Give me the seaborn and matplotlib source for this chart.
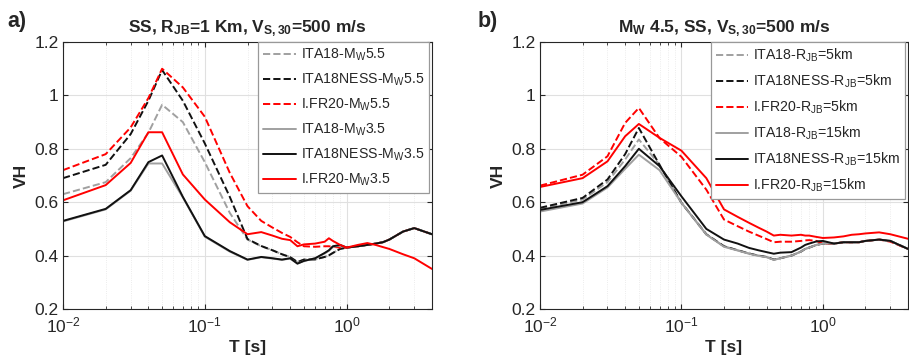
import numpy as np
import pandas as pd
import matplotlib
matplotlib.use("Agg")
import matplotlib.pyplot as plt
import seaborn as sns
from matplotlib.ticker import FixedLocator, FuncFormatter, LogLocator, NullFormatter

# ---------------- data ----------------
periods = [0.01, 0.02, 0.03, 0.04, 0.05, 0.07, 0.1, 0.15, 0.2, 0.25, 0.3, 0.35, 0.4, 0.45,
           0.5, 0.6, 0.7, 0.75, 0.8, 0.9, 1.0, 1.2, 1.4, 1.6, 1.8, 2.0, 2.5, 3.0, 4.0]

# panel a) SS, RJB = 1 km, Vs30 = 500 m/s
a_ita18_m55 = [0.630, 0.675, 0.765, 0.860, 0.965, 0.900, 0.750, 0.560, 0.460, 0.435, 0.420, 0.405, 0.395, 0.375,
               0.385, 0.385, 0.395, 0.400, 0.410, 0.425, 0.430, 0.435, 0.440, 0.445, 0.450, 0.460, 0.490, 0.503, 0.480]
a_ness_m55 = [0.690, 0.740, 0.855, 0.980, 1.095, 0.980, 0.820, 0.620, 0.462, 0.436, 0.420, 0.405, 0.394, 0.376,
              0.385, 0.386, 0.395, 0.401, 0.410, 0.425, 0.430, 0.435, 0.440, 0.445, 0.450, 0.460, 0.490, 0.503, 0.480]
a_ifr20_m55 = [0.720, 0.780, 0.880, 0.990, 1.100, 1.030, 0.920, 0.710, 0.585, 0.530, 0.505, 0.485, 0.470, 0.450,
               0.435, 0.433, 0.435, 0.435, 0.433, 0.430, 0.430, 0.435, 0.440, 0.445, 0.450, 0.460, 0.490, 0.503, 0.480]
a_ita18_m35 = [0.528, 0.573, 0.643, 0.745, 0.745, 0.618, 0.471, 0.415, 0.384, 0.394, 0.389, 0.384, 0.389, 0.370,
               0.380, 0.390, 0.408, 0.418, 0.432, 0.438, 0.430, 0.435, 0.440, 0.445, 0.450, 0.460, 0.490, 0.503, 0.480]
a_ness_m35 = [0.530, 0.575, 0.645, 0.750, 0.775, 0.620, 0.473, 0.417, 0.385, 0.395, 0.390, 0.385, 0.390, 0.370,
              0.380, 0.390, 0.410, 0.420, 0.435, 0.440, 0.430, 0.435, 0.440, 0.445, 0.450, 0.460, 0.490, 0.503, 0.480]
a_ifr20_m35 = [0.607, 0.664, 0.747, 0.862, 0.862, 0.704, 0.610, 0.525, 0.480, 0.488, 0.475, 0.463, 0.458, 0.435,
               0.442, 0.445, 0.452, 0.465, 0.455, 0.440, 0.430, 0.440, 0.447, 0.440, 0.432, 0.425, 0.405, 0.390, 0.350]

# panel b) Mw 4.5, SS, Vs30 = 500 m/s
b_ita18_r5 = [0.575, 0.610, 0.675, 0.760, 0.835, 0.740, 0.598, 0.479, 0.435, 0.420, 0.408, 0.400, 0.395, 0.385,
              0.390, 0.400, 0.415, 0.425, 0.430, 0.440, 0.445, 0.445, 0.450, 0.450, 0.450, 0.455, 0.460, 0.455, 0.425]
b_ness_r5 = [0.579, 0.616, 0.685, 0.780, 0.878, 0.740, 0.598, 0.480, 0.435, 0.420, 0.408, 0.400, 0.395, 0.385,
             0.390, 0.400, 0.415, 0.425, 0.430, 0.440, 0.445, 0.445, 0.450, 0.450, 0.450, 0.455, 0.460, 0.455, 0.425]
b_ifr20_r5 = [0.662, 0.703, 0.772, 0.897, 0.953, 0.840, 0.770, 0.647, 0.535, 0.510, 0.490, 0.475, 0.462, 0.450,
              0.452, 0.452, 0.455, 0.457, 0.458, 0.455, 0.445, 0.445, 0.450, 0.450, 0.450, 0.455, 0.460, 0.452, 0.425]
b_ita18_r15 = [0.565, 0.595, 0.655, 0.725, 0.778, 0.720, 0.598, 0.479, 0.433, 0.419, 0.407, 0.399, 0.394, 0.384,
               0.390, 0.400, 0.415, 0.425, 0.430, 0.440, 0.445, 0.445, 0.450, 0.450, 0.450, 0.455, 0.460, 0.455, 0.425]
b_ness_r15 = [0.571, 0.600, 0.660, 0.735, 0.800, 0.735, 0.622, 0.500, 0.460, 0.445, 0.429, 0.420, 0.413, 0.407,
              0.411, 0.413, 0.430, 0.440, 0.445, 0.453, 0.455, 0.445, 0.450, 0.450, 0.450, 0.455, 0.460, 0.455, 0.425]
b_ifr20_r15 = [0.657, 0.690, 0.753, 0.847, 0.893, 0.841, 0.793, 0.690, 0.573, 0.545, 0.523, 0.505, 0.490, 0.475,
               0.478, 0.475, 0.478, 0.475, 0.475, 0.470, 0.466, 0.468, 0.472, 0.478, 0.480, 0.483, 0.487, 0.480, 0.463]

a_labels = ["ITA18-M$_\\mathrm{W}$5.5", "ITA18NESS-M$_\\mathrm{W}$5.5", "I.FR20-M$_\\mathrm{W}$5.5",
            "ITA18-M$_\\mathrm{W}$3.5", "ITA18NESS-M$_\\mathrm{W}$3.5", "I.FR20-M$_\\mathrm{W}$3.5"]
b_labels = ["ITA18-R$_\\mathrm{JB}$=5km", "ITA18NESS-R$_\\mathrm{JB}$=5km", "I.FR20-R$_\\mathrm{JB}$=5km",
            "ITA18-R$_\\mathrm{JB}$=15km", "ITA18NESS-R$_\\mathrm{JB}$=15km", "I.FR20-R$_\\mathrm{JB}$=15km"]
a_title = "SS, $\\mathbf{R_{JB}}$=1 Km, $\\mathbf{V_{S,30}}$=500 m/s"
b_title = "$\\mathbf{M_{W}}$ 4.5, SS, $\\mathbf{V_{S,30}}$=500 m/s"

# ---------------- style ----------------
sns.set_theme(style="ticks")
plt.rcParams["font.family"] = ["Liberation Sans", "DejaVu Sans"]
plt.rcParams["mathtext.fontset"] = "custom"
plt.rcParams["mathtext.rm"] = "Liberation Sans"
plt.rcParams["mathtext.it"] = "Liberation Sans:italic"
plt.rcParams["mathtext.bf"] = "Liberation Sans:bold"
plt.rcParams["mathtext.default"] = "rm"

GRAY = "#a0a0a0"
BLACK = "#111111"
RED = "#ff0000"
styles = [(GRAY, "--"), (BLACK, "--"), (RED, "--"), (GRAY, "-"), (BLACK, "-"), (RED, "-")]

fig = plt.figure(figsize=(9.09, 3.64), dpi=100)
ax_a = fig.add_axes([63 / 909, 55 / 364, 369 / 909, 267 / 364])
ax_b = fig.add_axes([540 / 909, 55 / 364, 368 / 909, 267 / 364])


def draw(ax, series, labels, title):
    for vals, lab, (c, ls) in zip(series, labels, styles):
        df = pd.DataFrame({"T": periods, "VH": vals})
        sns.lineplot(data=df, x="T", y="VH", ax=ax, color=c, linestyle=ls, lw=1.4,
                     label=lab, sort=False, estimator=None)
    ax.set_xscale("log")
    ax.set_xlim(0.01, 4.0)
    ax.set_ylim(0.2, 1.2)
    ax.yaxis.set_major_locator(FixedLocator([0.2, 0.4, 0.6, 0.8, 1.0, 1.2]))
    ax.yaxis.set_major_formatter(FuncFormatter(lambda v, p: f"{v:g}"))
    ax.xaxis.set_major_locator(LogLocator(base=10, numticks=10))
    ax.xaxis.set_minor_locator(LogLocator(base=10, subs=np.arange(2, 10), numticks=20))
    ax.xaxis.set_minor_formatter(NullFormatter())
    ax.grid(True, which="major", color="#e0e0e0", lw=0.8, ls="-")
    ax.grid(True, which="minor", axis="x", color="#e6e6e6", lw=0.6, ls=":")
    ax.tick_params(which="both", direction="in", top=True, right=True, colors="#262626",
                   labelsize=12.5, labelcolor="#262626")
    ax.tick_params(axis="y", pad=3)
    ax.tick_params(axis="x", pad=5)
    ax.tick_params(which="major", length=3.5, width=0.8)
    ax.tick_params(which="minor", length=2, width=0.6)
    for s in ax.spines.values():
        s.set_color("#262626")
        s.set_linewidth(0.8)
    ax.set_xlabel("T [s]", fontsize=12.5, fontweight="bold", labelpad=3)
    ax.set_ylabel("VH", fontsize=12.5, fontweight="bold", labelpad=4)
    ax.set_title(title, fontsize=12.5, fontweight="bold", pad=7)
    leg = ax.legend(loc="upper right", bbox_to_anchor=(0.992, 1.0), borderaxespad=0.0,
                    fontsize=10.2, frameon=True, fancybox=False, framealpha=1,
                    edgecolor="#999999", handlelength=2.3, handletextpad=0.35,
                    labelspacing=0.6, borderpad=0.35)
    leg.get_frame().set_linewidth(0.9)


draw(ax_a, [a_ita18_m55, a_ness_m55, a_ifr20_m55, a_ita18_m35, a_ness_m35, a_ifr20_m35],
     a_labels, a_title)
draw(ax_b, [b_ita18_r5, b_ness_r5, b_ifr20_r5, b_ita18_r15, b_ness_r15, b_ifr20_r15],
     b_labels, b_title)

fig.text(7 / 909, 1 - 27 / 364, "a)", fontsize=15.5, fontweight="bold", ha="left", va="baseline")
fig.text(478 / 909, 1 - 27 / 364, "b)", fontsize=15.5, fontweight="bold", ha="left", va="baseline")

fig.savefig("out.png", dpi=100)
